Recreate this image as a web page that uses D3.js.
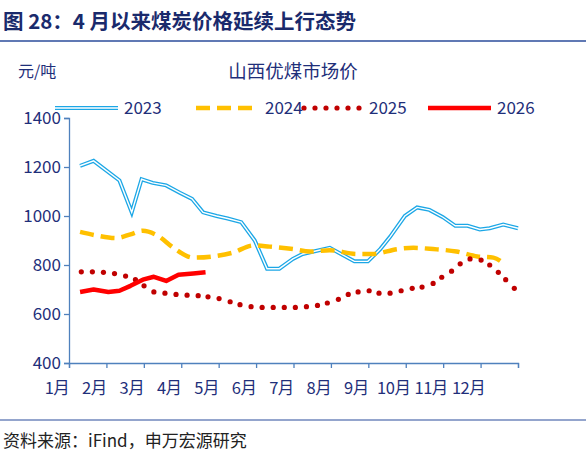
<!DOCTYPE html>
<html><head><meta charset="utf-8">
<script src="https://cdn.jsdelivr.net/npm/d3@7.9.0/dist/d3.min.js"></script>
<style>body{margin:0;background:#fff}text{font-family:"Noto Sans CJK SC",sans-serif}</style>
</head><body><svg width="586" height="459"></svg>
<script>
// day-of-year / price
const monthLabels = ['1月','2月','3月','4月','5月','6月','7月','8月','9月','10月','11月','12月'];
const yTicks = [400, 600, 800, 1000, 1200, 1400];
const d2023 = [[9,1205],[20,1225],[41,1145],[51,1015],[59,1150],[68,1135],[79,1125],[90,1095],[100,1070],[109,1015],[120,1000],[129,990],[140,975],[151,900],[161,785],[171,785],[182,825],[190,845],[212,870],[232,815],[243,815],[253,865],[261,915],[273,1000],[283,1035],[293,1025],[304,995],[314,960],[324,960],[334,945],[342,950],[353,965],[365,950]];
const d2024 = [[9,935],[23,920],[38,910],[50,925],[60,940],[72,920],[85,870],[101,830],[117,835],[133,850],[150,880],[163,875],[182,865],[196,855],[212,860],[234,845],[247,845],[267,865],[280,870],[296,865],[315,855],[332,835],[345,830],[355,800]];
const d2025 = [[10,772],[19,772],[28,770],[37,765],[46,755],[54,740],[61,715],[69,690],[78,685],[87,680],[96,677],[105,675],[113,670],[122,663],[131,650],[139,638],[148,630],[157,627],[166,627],[175,627],[184,627],[193,630],[202,635],[210,645],[219,660],[227,680],[235,690],[244,695],[252,685],[261,685],[270,695],[279,705],[287,710],[296,725],[303,750],[311,775],[318,805],[326,825],[335,820],[342,800],[349,770],[355,740],[362,705]];
const d2026 = [[9,690],[20,700],[32,690],[41,695],[50,715],[60,740],[69,752],[79,735],[89,760],[101,765],[111,770]];

const svg = d3.select('svg');
const navy = '#1f2f7a', axisC = '#4f81bd';
const x = d3.scaleLinear().domain([0, 365]).range([69, 518]);
const y = d3.scaleLinear().domain([400, 1400]).range([363, 118]);

svg.append('text').attr('x', 3).attr('y', 29).attr('font-size', 20.5).attr('font-weight', 'bold').attr('fill', '#1a2a6c')
  .text('图 28：4 月以来煤炭价格延续上行态势');
svg.append('line').attr('x1', 0).attr('x2', 586).attr('y1', 41).attr('y2', 41).attr('stroke', '#2b4c9b').attr('stroke-width', 1.5);
svg.append('line').attr('x1', 0).attr('x2', 586).attr('y1', 420).attr('y2', 420).attr('stroke', '#2b4c9b').attr('stroke-width', 1.2);
svg.append('text').attr('x', 3).attr('y', 447).attr('font-size', 17).attr('fill', '#222').text('资料来源：iFind，申万宏源研究');

svg.append('text').attr('x', 18).attr('y', 77).attr('font-size', 16).attr('fill', navy).text('元/吨');
svg.append('text').attr('x', 293).attr('y', 78).attr('text-anchor', 'middle').attr('font-size', 18.5).attr('fill', navy).text('山西优煤市场价');

// axes
const ya = svg.append('g').attr('transform', 'translate(69,0)')
  .call(d3.axisLeft(y).tickValues(yTicks).tickSize(5).tickFormat(d3.format('d')));
const monthX = d3.range(13).map(i => i * 365 / 12);
const xa = svg.append('g').attr('transform', 'translate(0,363)')
  .call(d3.axisBottom(x).tickValues(monthX).tickSize(5).tickFormat(''));
[ya, xa].forEach(g => { g.selectAll('path,line').attr('stroke', axisC).attr('stroke-width', 1.3); });
ya.selectAll('text').attr('font-size', 17).attr('fill', navy).attr('font-family', 'Liberation Sans, Arial');
svg.append('g').selectAll('text').data(monthLabels).join('text')
  .attr('x', (d, i) => x(monthX[i]) - 12).attr('y', 394).attr('text-anchor', 'middle')
  .attr('font-size', 16.5).attr('letter-spacing', -0.5).attr('fill', navy).text(d => d);

const line = d3.line().x(d => x(d[0])).y(d => y(d[1]));
svg.append('path').attr('d', line(d2023)).attr('fill', 'none').attr('stroke', '#1ca7e6').attr('stroke-width', 4);
svg.append('path').attr('d', line(d2023)).attr('fill', 'none').attr('stroke', '#fff').attr('stroke-width', 1.4);
svg.append('path').attr('d', d3.line().curve(d3.curveMonotoneX).x(d => x(d[0])).y(d => y(d[1]))(d2024))
  .attr('fill', 'none').attr('stroke', '#ffc000').attr('stroke-width', 4.5).attr('stroke-dasharray', '14 7');
svg.selectAll('.dot').data(d2025).join('circle').attr('class', 'dot')
  .attr('cx', d => x(d[0])).attr('cy', d => y(d[1])).attr('r', 2.6).attr('fill', '#c00000');
svg.append('path').attr('d', line(d2026)).attr('fill', 'none').attr('stroke', '#ff0000').attr('stroke-width', 4.5)
  .attr('stroke-linejoin', 'round');

// legend
const lg = svg.append('g').attr('transform', 'translate(0,108)');
const lx = [55, 196, 300, 428];
const names = ['2023', '2024', '2025', '2026'];
lg.append('line').attr('x1', lx[0]).attr('x2', lx[0] + 63).attr('stroke', '#1ca7e6').attr('stroke-width', 4);
lg.append('line').attr('x1', lx[0]).attr('x2', lx[0] + 63).attr('stroke', '#fff').attr('stroke-width', 1.4);
lg.append('line').attr('x1', lx[1]).attr('x2', lx[1] + 63).attr('stroke', '#ffc000').attr('stroke-width', 4.5).attr('stroke-dasharray', '14 7');
lg.selectAll('circle').data(d3.range(6)).join('circle').attr('cx', i => lx[2] + 4 + i * 11).attr('cy', 0).attr('r', 2.6).attr('fill', '#c00000');
lg.append('line').attr('x1', lx[3]).attr('x2', lx[3] + 63).attr('stroke', '#ff0000').attr('stroke-width', 4.5);
lg.selectAll('text').data(names).join('text').attr('x', (d, i) => lx[i] + 69).attr('y', 6)
  .attr('font-size', 17).attr('fill', navy).attr('font-family', 'Liberation Sans, Arial').text(d => d);
</script></body></html>
